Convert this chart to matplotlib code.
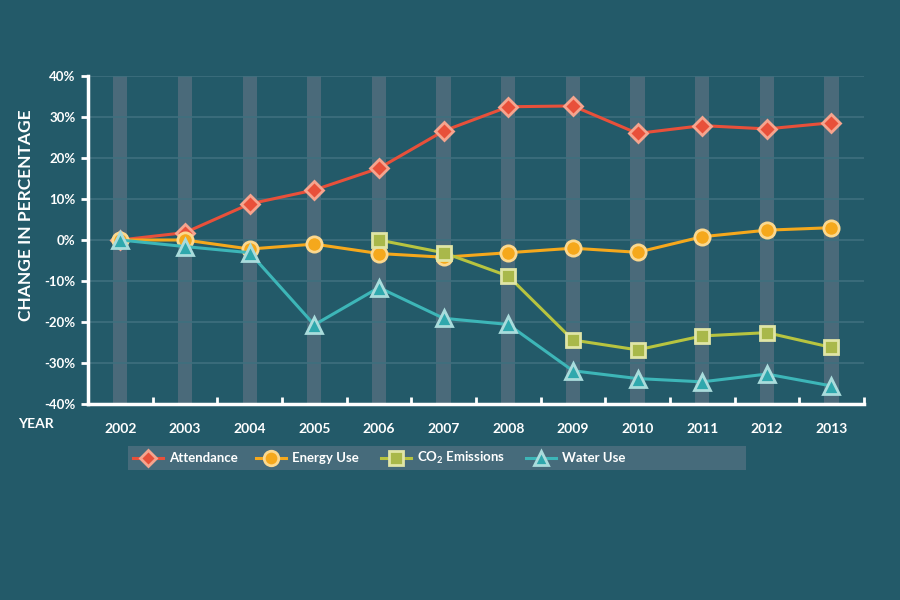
"""Attendance vs resource use, change since 2002."""

import numpy as np
import matplotlib
matplotlib.use("Agg")
import matplotlib.pyplot as plt
from matplotlib.patches import Rectangle
from matplotlib.lines import Line2D

years = list(range(2002, 2014))
attendance = [0, 1.8, 8.8, 12.2, 17.5, 26.6, 32.5, 32.7, 26.0, 27.9, 27.1, 28.6]
energy_use = [0, 0, -2.2, -1.0, -3.3, -4.2, -3.1, -2.0, -3.0, 0.8, 2.4, 3.0]
co2_years = list(range(2006, 2014))
co2_emissions = [0, -3.1, -8.8, -24.4, -26.8, -23.4, -22.6, -26.2]
water_use = [0, -1.6, -3.1, -20.7, -11.6, -19.1, -20.6, -31.9, -33.8, -34.6, -32.7, -35.6]
y_ticks = [-40, -30, -20, -10, 0, 10, 20, 30, 40]

BG = "#235a69"
BAR = "#4a6a7a"
GRID = "#3e6f7e"
WHITE = "white"

plt.rcParams["font.family"] = ["Lato", "DejaVu Sans"]
plt.rcParams["font.weight"] = "bold"
plt.rcParams["mathtext.fontset"] = "custom"
plt.rcParams["mathtext.rm"] = "Lato:bold"
plt.rcParams["mathtext.default"] = "rm"

fig = plt.figure(figsize=(9, 6), dpi=100, facecolor=BG)
ax = fig.add_axes([0.0978, 0.3267, 0.862, 0.5466])
ax.set_facecolor(BG)

# grey year columns
ax.bar(years, 80, bottom=-40, width=0.22, color=BAR, zorder=0)
for v in y_ticks[1:]:
    ax.axhline(v, color=GRID, lw=1.2, zorder=0.5)

series = [
    ("Attendance", years, attendance, "#e8503a", "D", "#e8503a", "#f6a48e", 9),
    ("Energy Use", years, energy_use, "#f5a81c", "o", "#f5a81c", "#fcd88e", 11),
    ("CO$_2$ Emissions", co2_years, co2_emissions, "#b7c440", "s", "#a9b84a", "#e0e5a6", 10),
    ("Water Use", years, water_use, "#3db6b8", "^", "#2fa8ad", "#a9dcdc", 11),
]
for label, xs, ys, lc, m, fc, ec, ms in series:
    ax.plot(xs, ys, color=lc, lw=2.2, marker=m, ms=ms, mfc=fc, mec=ec,
            mew=2, label=label, zorder=3)

ax.set_xlim(2001.5, 2013.47)
ax.set_ylim(-40, 40)
ax.set_yticks(y_ticks)
ax.set_yticklabels([f"{v}%" for v in y_ticks])
ax.set_xticks(years)
ax.set_xticks(np.arange(2002.5, 2013.6, 1), minor=True)
ax.tick_params(axis="x", which="major", length=0, pad=14, colors=WHITE, labelsize=10)
ax.tick_params(axis="x", which="minor", direction="in", length=5, width=2, color=WHITE)
ax.tick_params(axis="y", direction="out", length=5, width=2, color=WHITE,
               labelcolor=WHITE, labelsize=9.5, pad=4)

for side in ("top", "right"):
    ax.spines[side].set_visible(False)
for side in ("left", "bottom"):
    ax.spines[side].set_color(WHITE)
    ax.spines[side].set_linewidth(2.5)

ax.set_ylabel("CHANGE IN PERCENTAGE", color=WHITE, fontsize=12.5, fontweight="bold")
ax.yaxis.set_label_coords(-0.07, 0.576)
fig.text(0.02, 0.293, "YEAR", color=WHITE, fontsize=10, va="center", ha="left")

# legend strip, entries placed by hand like the original artwork
fig.patches.append(Rectangle((128 / 900, 1 - 470 / 600), 618 / 900, 24 / 600,
                             transform=fig.transFigure, facecolor="#466b7b",
                             edgecolor="none", zorder=0))
legend_x = [133, 256, 381, 526]
y_leg = 1 - 458 / 600
for x0, (label, _, _, lc, m, fc, ec, ms) in zip(legend_x, series):
    fig.add_artist(Line2D([x0 / 900, (x0 + 30) / 900], [y_leg, y_leg],
                          transform=fig.transFigure, color=lc, lw=2.2))
    fig.add_artist(Line2D([(x0 + 15) / 900], [y_leg], transform=fig.transFigure,
                          marker=m, ms=ms * 0.95, mfc=fc, mec=ec, mew=2, lw=0))
    fig.text((x0 + 36) / 900, y_leg, label, color=WHITE, fontsize=9.5,
             va="center", ha="left")

fig.savefig("out.png", dpi=100, facecolor=BG)
